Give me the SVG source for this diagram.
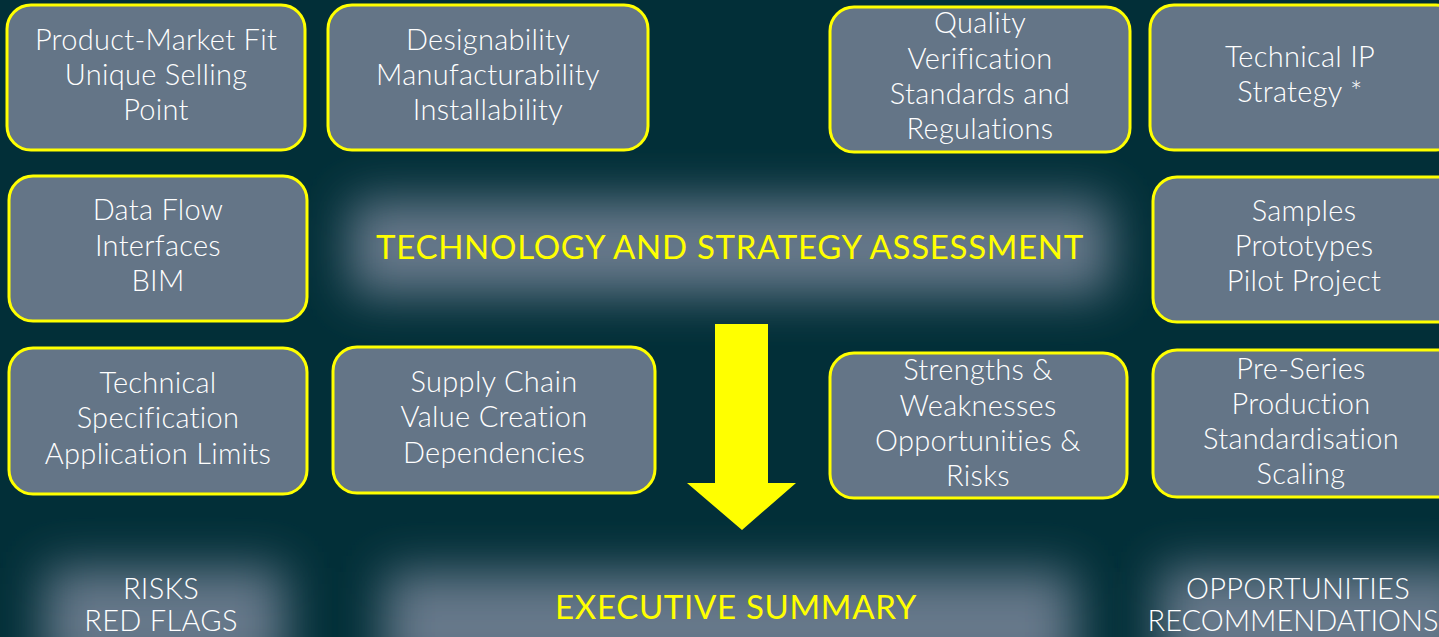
<svg xmlns="http://www.w3.org/2000/svg" width="1439" height="637" viewBox="0 0 1439 637">
<defs>
<filter id="glow" x="-30%" y="-100%" width="160%" height="300%"><feGaussianBlur stdDeviation="24"/></filter>
<style>
.box{fill:#647587;stroke:#ffff00;stroke-width:3}
.t{font-family:Lato,"Liberation Sans",sans-serif;font-weight:300;font-size:29px;letter-spacing:0.3px;fill:#ffffff;text-anchor:middle}
.y{font-family:Lato,"Liberation Sans",sans-serif;font-weight:400;font-size:33px;letter-spacing:0.7px;fill:#ffff00;text-anchor:middle}
.panel{fill:#66788a;filter:url(#glow)}
</style>
</defs>
<rect width="1439" height="637" fill="#022f38"/>
<g id="panels">
<rect class="panel" x="350" y="200" width="760" height="95" rx="10"/>
<rect class="panel" x="45" y="568" width="240" height="110"/>
<rect class="panel" x="385" y="572" width="690" height="110"/>
<rect class="panel" x="1160" y="568" width="320" height="110"/>
</g>
<g id="center-title"><text class="y" x="730" y="259">TECHNOLOGY AND STRATEGY ASSESSMENT</text></g>
<g id="n1"><rect class="box" x="7" y="5" width="298" height="145" rx="24"/>
<text class="t" x="156" y="50">Product-Market Fit</text><text class="t" x="156" y="85">Unique Selling</text><text class="t" x="156" y="120">Point</text></g>
<g id="n2"><rect class="box" x="328" y="5" width="320" height="145" rx="24"/>
<text class="t" x="488" y="50">Designability</text><text class="t" x="488" y="85">Manufacturability</text><text class="t" x="488" y="120">Installability</text></g>
<g id="n3"><rect class="box" x="830" y="7" width="300" height="145" rx="24"/>
<text class="t" x="980" y="33">Quality</text><text class="t" x="980" y="69">Verification</text><text class="t" x="980" y="104">Standards and</text><text class="t" x="980" y="139">Regulations</text></g>
<g id="n4"><rect class="box" x="1150" y="5" width="310" height="145" rx="24"/>
<text class="t" x="1300" y="67">Technical IP</text><text class="t" x="1300" y="102">Strategy *</text></g>
<g id="n5"><rect class="box" x="9" y="176" width="298" height="145" rx="24"/>
<text class="t" x="158" y="220">Data Flow</text><text class="t" x="158" y="256">Interfaces</text><text class="t" x="158" y="291">BIM</text></g>
<g id="n6"><rect class="box" x="1153" y="177" width="310" height="145" rx="24"/>
<text class="t" x="1304" y="221">Samples</text><text class="t" x="1304" y="256">Prototypes</text><text class="t" x="1304" y="291">Pilot Project</text></g>
<g id="n7"><rect class="box" x="9" y="348" width="298" height="146" rx="24"/>
<text class="t" x="158" y="393">Technical</text><text class="t" x="158" y="428">Specification</text><text class="t" x="158" y="464">Application Limits</text></g>
<g id="n8"><rect class="box" x="333" y="347" width="322" height="146" rx="24"/>
<text class="t" x="494" y="392">Supply Chain</text><text class="t" x="494" y="427">Value Creation</text><text class="t" x="494" y="463">Dependencies</text></g>
<g id="n9"><rect class="box" x="830" y="353" width="297" height="145" rx="24"/>
<text class="t" x="978" y="380">Strengths &amp;</text><text class="t" x="978" y="416">Weaknesses</text><text class="t" x="978" y="451">Opportunities &amp;</text><text class="t" x="978" y="486">Risks</text></g>
<g id="n10"><rect class="box" x="1153" y="350" width="310" height="147" rx="24"/>
<text class="t" x="1301" y="379">Pre-Series</text><text class="t" x="1301" y="414">Production</text><text class="t" x="1301" y="449">Standardisation</text><text class="t" x="1301" y="484">Scaling</text></g>
<g id="connectors"><polygon points="715,324 768,324 768,483 796,483 742,530 687,483 715,483" fill="#ffff00"/></g>
<g id="risks"><text class="t" x="161" y="599">RISKS</text><text class="t" x="161" y="631">RED FLAGS</text></g>
<g id="summary"><text class="y" x="736" y="619">EXECUTIVE SUMMARY</text></g>
<g id="opps"><text class="t" x="1298" y="599">OPPORTUNITIES</text><text class="t" x="1293" y="631" style="letter-spacing:0">RECOMMENDATIONS</text></g>
</svg>
